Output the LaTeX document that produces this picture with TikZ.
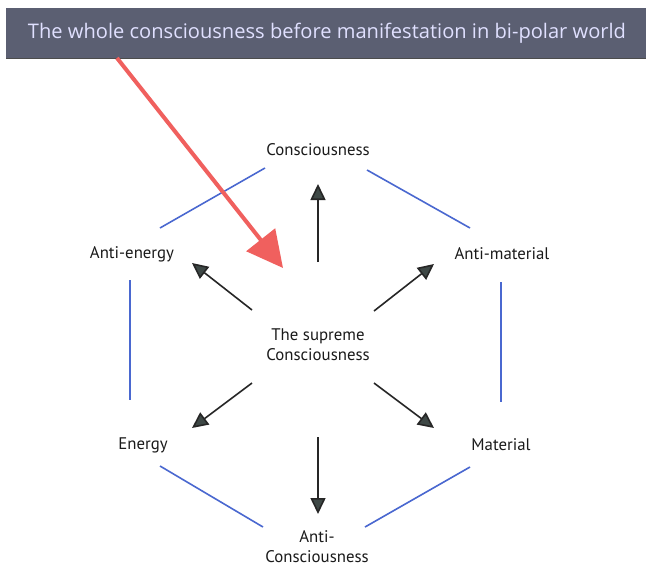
\documentclass[tikz,border=0pt]{standalone}
\usepackage{fontspec}
\setmainfont{PT Sans}
\newfontfamily\lblfont{PT Sans}
\newfontfamily\bannerfont{Open Sans}
\usetikzlibrary{arrows.meta}
\definecolor{banner}{HTML}{5B5F72}
\definecolor{bluel}{HTML}{4A68D0}
\definecolor{redarrow}{HTML}{F0605E}
\definecolor{headfill}{HTML}{3E4846}
\definecolor{txt}{HTML}{1A1A1A}
\tikzset{
  lbl/.style={font=\lblfont\fontsize{16.8}{20}\selectfont, text=txt, align=center, inner sep=0pt},
  blueline/.style={draw=bluel, line width=1.6pt},
  blackarrow/.style={draw=black!85, line width=1.6pt, -{Triangle[length=16pt,width=15pt,fill=headfill]}},
  redarr/.style={draw=redarrow, line width=4pt, -{Triangle[length=36pt,width=36pt,fill=redarrow]}},
}
\begin{document}
\begin{tikzpicture}[x=1pt,y=-1pt]
\useasboundingbox (0,0) rectangle (646,568);
\fill[white] (0,0) rectangle (646,568);
% banner
\fill[banner] (6,8) rectangle (646,58);
\draw[black!70, line width=1pt] (6,58) -- (646,58);
\node[inner sep=0pt, text=white!88!blue, font=\bannerfont\fontsize{20.1}{24}\selectfont] (title) at (327,33) {The whole consciousness before manifestation in bi-polar world};
% nodes
\node[lbl] (cons) at (318,150) {Consciousness};
\node[lbl] (antien) at (132,254) {Anti-energy};
\node[lbl] (antimat) at (502,254) {Anti-material};
\node[lbl] (supreme) at (318,345) {The supreme\\Consciousness};
\node[lbl] (energy) at (143,445) {Energy};
\node[lbl] (material) at (501,445) {Material};
\node[lbl] (anticons) at (317,547) {Anti-\\Consciousness};
% coordinates for blue lines
\coordinate (b1a) at (265,168); \coordinate (b1b) at (160,228);
\coordinate (b2a) at (367,170); \coordinate (b2b) at (470,228);
\coordinate (b3a) at (130,280); \coordinate (b3b) at (130,400);
\coordinate (b4a) at (501,282); \coordinate (b4b) at (501,402);
\coordinate (b5a) at (160,466); \coordinate (b5b) at (263,527);
\coordinate (b6a) at (470,467); \coordinate (b6b) at (365,527);
\draw[blueline] (b1a) -- (b1b);
\draw[blueline] (b2a) -- (b2b);
\draw[blueline] (b3a) -- (b3b);
\draw[blueline] (b4a) -- (b4b);
\draw[blueline] (b5a) -- (b5b);
\draw[blueline] (b6a) -- (b6b);
% black arrows
\coordinate (aus) at (318,262); \coordinate (aue) at (318,184);
\coordinate (ads) at (318,437); \coordinate (ade) at (318,514);
\coordinate (auls) at (252,310); \coordinate (aule) at (192,263);
\coordinate (aurs) at (374,311); \coordinate (aure) at (434,264);
\coordinate (adls) at (252,383); \coordinate (adle) at (192,428);
\coordinate (adrs) at (374,383); \coordinate (adre) at (434,428);
\draw[blackarrow] (aus) -- (aue);
\draw[blackarrow] (ads) -- (ade);
\draw[blackarrow] (auls) -- (aule);
\draw[blackarrow] (aurs) -- (aure);
\draw[blackarrow] (adls) -- (adle);
\draw[blackarrow] (adrs) -- (adre);
% red arrow
\coordinate (rs) at (117,58); \coordinate (re) at (283,268);
\draw[redarr] (rs) -- (re);
\end{tikzpicture}
\end{document}
